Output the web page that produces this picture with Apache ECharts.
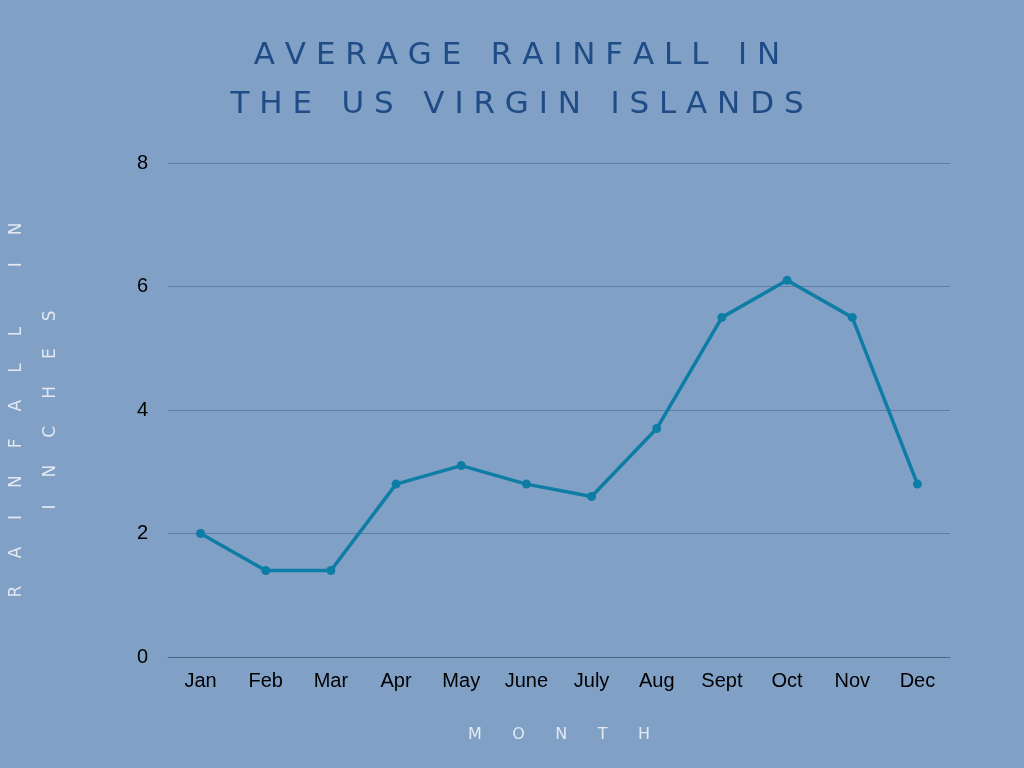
<!DOCTYPE html>
<html>
<head>
<meta charset="utf-8">
<script src="https://cdn.jsdelivr.net/npm/echarts@6/dist/echarts.min.js"></script>
<style>html,body{margin:0;padding:0;background:#81a0c5;}#chart{width:1024px;height:768px;}</style>
</head>
<body>
<div id="chart"></div>
<script>
// monthly rainfall, inches
const months = ['Jan', 'Feb', 'Mar', 'Apr', 'May', 'June', 'July', 'Aug', 'Sept', 'Oct', 'Nov', 'Dec'];
const rainfall = [2.0, 1.4, 1.4, 2.8, 3.1, 2.8, 2.6, 3.7, 5.5, 6.1, 5.5, 2.8];

const spaced = (s, gap) => s.split('').join(gap);

const chart = echarts.init(document.getElementById('chart'));
chart.setOption({
    backgroundColor: '#81a0c5',
    title: {
        text: spaced('AVERAGE RAINFALL IN', ' ') + '\n' + spaced('THE US VIRGIN ISLANDS', ' '),
        left: 512,
        textAlign: 'center',
        top: 26,
        textStyle: {
            color: '#1f4c86',
            fontSize: 31,
            fontWeight: 'normal',
            fontFamily: 'DejaVu Sans',
            lineHeight: 49
        }
    },
    grid: { left: 168, right: 74, top: 163, bottom: 111, containLabel: false, outerBoundsMode: 'none' },
    xAxis: {
        type: 'category',
        data: months,
        name: spaced('MONTH', '      '),
        nameLocation: 'middle',
        nameGap: 70,
        nameTextStyle: { color: '#e3e9f2', fontSize: 16, fontFamily: 'DejaVu Sans' },
        axisLine: { lineStyle: { color: '#4f6585' } },
        axisTick: { show: false },
        axisLabel: { color: '#000', fontSize: 20, fontFamily: 'Liberation Sans', margin: 14 }
    },
    yAxis: {
        type: 'value',
        min: 0, max: 8, interval: 2,
        name: spaced('RAINFALL IN', '     ') + '\n' + spaced('INCHES', '     '),
        nameLocation: 'middle',
        nameRotate: 90,
        nameGap: 100,
        nameTextStyle: { color: '#e3e9f2', fontSize: 17, fontFamily: 'DejaVu Sans', lineHeight: 34 },
        axisLabel: { color: '#000', fontSize: 20, fontFamily: 'Liberation Sans', margin: 20 },
        splitLine: { lineStyle: { color: '#5f7ca6', width: 1 } }
    },
    series: [{
        type: 'line',
        data: rainfall,
        color: '#0e7da6',
        lineStyle: { width: 3.5 },
        symbol: 'circle',
        symbolSize: 9
    }]
});
</script>
</body>
</html>
